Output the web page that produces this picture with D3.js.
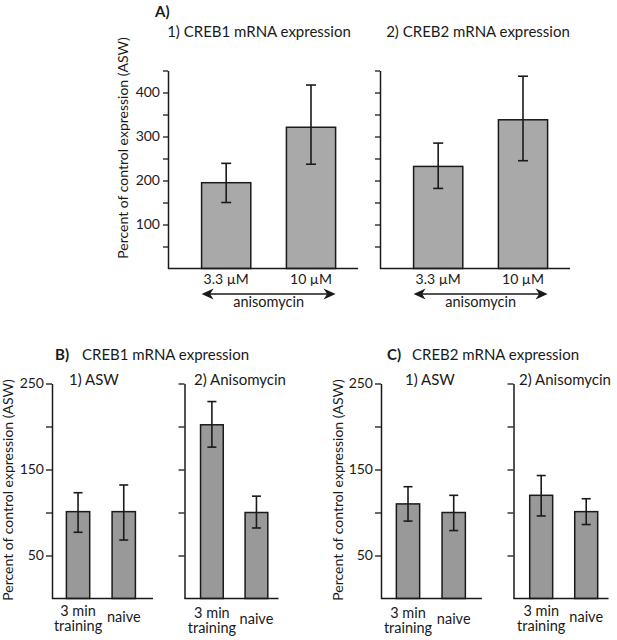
<!DOCTYPE html>
<html>
<head>
<meta charset="utf-8">
<script src="https://cdn.jsdelivr.net/npm/d3@7"></script>
<style>
  body { margin: 0; background: #fff; }
  text { font-family: Lato, "Open Sans", sans-serif; fill: #1a1a1a; }
</style>
</head>
<body>
<svg id="chart" width="617" height="640"></svg>
<script>
// ---- data ----
const doseLabels = ["3.3 µM", "10 µM"];
const aCreb1Mean = [195, 321];
const aCreb1Hi = [239, 417];
const aCreb1Lo = [150, 237];
const aCreb2Mean = [232, 338];
const aCreb2Hi = [285, 437];
const aCreb2Lo = [182, 245];

const groupLabels = [["3 min", "training"], ["naive"]];
const bAswMean = [101, 101];
const bAswHi = [123, 132];
const bAswLo = [77, 68];
const bAniMean = [202, 100];
const bAniHi = [229, 119];
const bAniLo = [176, 82];
const cAswMean = [110, 100];
const cAswHi = [130, 120];
const cAswLo = [90, 79];
const cAniMean = [120, 101];
const cAniHi = [143, 116];
const cAniLo = [96, 86];

const aTicks = [50, 100, 150, 200, 250, 300, 350, 400, 450];
const aTickLabels = [100, 200, 300, 400];
const bTicks = [50, 100, 150, 200, 250];
const bTickLabels = [50, 150, 250];

const yLabel = "Percent of control expression (ASW)";

const svg = d3.select("#chart");
const ink = "#1a1a1a";

// panel layouts
const panels = [
  { cats: doseLabels, mean: aCreb1Mean, hi: aCreb1Hi, lo: aCreb1Lo, x0: 168, x1: 358,
    yBase: 268.5, yTop: 70.5, domain: [0, 450], ticks: aTicks, labels: aTickLabels,
    fill: "#a9a9a9", pi: 0.42, po: 0.33, align: 0.6, cap: 10, tickSize: 5, tickPad: 3, big: true },
  { cats: doseLabels, mean: aCreb2Mean, hi: aCreb2Hi, lo: aCreb2Lo, x0: 380, x1: 570,
    yBase: 268.5, yTop: 70.5, domain: [0, 450], ticks: aTicks, labels: [],
    fill: "#a9a9a9", pi: 0.42, po: 0.33, align: 0.6, cap: 10, tickSize: 5, tickPad: 3, big: true },
  { cats: groupLabels, mean: bAswMean, hi: bAswHi, lo: bAswLo, x0: 52, x1: 153,
    yBase: 598.5, yTop: 383.5, domain: [0, 250], ticks: bTicks, labels: bTickLabels,
    fill: "#999999", pi: 0.49, po: 0.35, align: 0.45, cap: 9, tickSize: 6, tickPad: 2, big: false, dy: 0 },
  { cats: groupLabels, mean: bAniMean, hi: bAniHi, lo: bAniLo, x0: 184.5, x1: 278.5,
    yBase: 598.5, yTop: 383.5, domain: [0, 250], ticks: bTicks, labels: [],
    fill: "#999999", pi: 0.49, po: 0.3, align: 0.6, cap: 9, tickSize: 6, tickPad: 2, big: false, dy: 2 },
  { cats: groupLabels, mean: cAswMean, hi: cAswHi, lo: cAswLo, x0: 381, x1: 482,
    yBase: 598.5, yTop: 383.5, domain: [0, 250], ticks: bTicks, labels: bTickLabels,
    fill: "#999999", pi: 0.49, po: 0.35, align: 0.48, cap: 9, tickSize: 6, tickPad: 2, big: false, dy: 2 },
  { cats: groupLabels, mean: cAniMean, hi: cAniHi, lo: cAniLo, x0: 513.5, x1: 608.5,
    yBase: 598.5, yTop: 383.5, domain: [0, 250], ticks: bTicks, labels: [],
    fill: "#999999", pi: 0.49, po: 0.3, align: 0.6, cap: 9, tickSize: 6, tickPad: 2, big: false, dy: 0 }
];

function drawPanel(p) {
  const g = svg.append("g");
  const x = d3.scaleBand()
      .domain(p.cats.map((d, i) => i))
      .range([p.x0, p.x1])
      .paddingInner(p.pi)
      .paddingOuter(p.po)
      .align(p.align);
  const y = d3.scaleLinear().domain(p.domain).range([p.yBase, p.yTop]);

  // bars
  g.selectAll("rect.bar")
    .data(p.mean)
    .join("rect")
      .attr("class", "bar")
      .attr("x", (d, i) => x(i))
      .attr("y", d => y(d))
      .attr("width", x.bandwidth())
      .attr("height", d => y(0) - y(d))
      .attr("fill", p.fill)
      .attr("stroke", ink)
      .attr("stroke-width", 1.5);

  // error bars
  const err = g.selectAll("g.err")
    .data(p.mean.map((m, i) => ({ i, hi: p.hi[i], lo: p.lo[i] })))
    .join("g")
      .attr("class", "err")
      .attr("transform", d => `translate(${x(d.i) + x.bandwidth() / 2},0)`)
      .attr("stroke", ink)
      .attr("stroke-width", 1.6);
  err.append("line").attr("y1", d => y(d.hi)).attr("y2", d => y(d.lo));
  err.append("line").attr("x1", -p.cap / 2).attr("x2", p.cap / 2)
      .attr("y1", d => y(d.hi)).attr("y2", d => y(d.hi));
  err.append("line").attr("x1", -p.cap / 2).attr("x2", p.cap / 2)
      .attr("y1", d => y(d.lo)).attr("y2", d => y(d.lo));

  // y axis
  const axis = d3.axisLeft(y)
      .tickValues(p.ticks)
      .tickSize(p.tickSize)
      .tickSizeOuter(0)
      .tickPadding(p.tickPad)
      .tickFormat(d => p.labels.includes(d) ? d : "");
  const ax = g.append("g").attr("transform", `translate(${p.x0},0)`).call(axis);
  ax.select(".domain").attr("stroke", ink).attr("stroke-width", 1.5);
  ax.selectAll(".tick line").attr("stroke", ink).attr("stroke-width", 1.3);
  ax.selectAll(".tick text").attr("font-size", 14).attr("fill", ink)
    .style("font-family", "Lato, 'Open Sans', sans-serif");

  // x axis line
  g.append("line")
      .attr("x1", p.x0).attr("x2", p.x1)
      .attr("y1", p.yBase).attr("y2", p.yBase)
      .attr("stroke", ink).attr("stroke-width", 1.5);

  // category labels
  if (p.big) {
    g.selectAll("text.cat")
      .data(p.cats)
      .join("text")
        .attr("class", "cat")
        .attr("x", (d, i) => x(i) + x.bandwidth() / 2)
        .attr("y", p.yBase + 15)
        .attr("text-anchor", "middle")
        .attr("font-size", 14)
        .text(d => d);

    // double-headed arrow spanning the bars
    const ax0 = x(0), ax1 = x(1) + x.bandwidth();
    const ay = p.yBase + 25.5;
    g.append("line").attr("x1", ax0 + 8).attr("x2", ax1 - 8)
      .attr("y1", ay).attr("y2", ay).attr("stroke", ink).attr("stroke-width", 1.6);
    g.append("path")
      .attr("d", `M${ax0},${ay} l12,-5.5 l-3.5,5.5 l3.5,5.5 z`)
      .attr("fill", ink);
    g.append("path")
      .attr("d", `M${ax1},${ay} l-12,-5.5 l3.5,5.5 l-3.5,5.5 z`)
      .attr("fill", ink);
    g.append("text")
      .attr("x", (ax0 + ax1) / 2)
      .attr("y", p.yBase + 38.5)
      .attr("text-anchor", "middle")
      .attr("font-size", 14.5)
      .text("anisomycin");
  } else {
    g.selectAll("text.cat")
      .data(p.cats)
      .join("text")
        .attr("class", "cat")
        .attr("x", (d, i) => x(i) + x.bandwidth() / 2)
        .attr("y", d => p.yBase + p.dy + (d.length > 1 ? 17 : 23.5))
        .attr("text-anchor", "middle")
        .attr("font-size", 14.5)
        .selectAll("tspan")
        .data(d => d)
        .join("tspan")
          .attr("x", function () { return this.parentNode.getAttribute("x"); })
          .attr("dy", (d, j) => j === 0 ? 0 : 15.5)
          .text(d => d);
  }
  return g;
}

panels.forEach(drawPanel);

// titles and labels
function label(x, y, txt, opts = {}) {
  const t = svg.append("text")
      .attr("x", x).attr("y", y)
      .attr("font-size", opts.size || 15)
      .attr("text-anchor", opts.anchor || "start")
      .attr("font-weight", opts.bold ? "bold" : null)
      .text(txt);
  if (opts.rotate) t.attr("transform", `rotate(-90,${x},${y})`);
  return t;
}

label(155, 17, "A)", { bold: true, size: 15 });
label(259, 36.5, "1) CREB1 mRNA expression", { anchor: "middle" });
label(478, 36.5, "2) CREB2 mRNA expression", { anchor: "middle" });
label(128, 148, yLabel, { anchor: "middle", rotate: true, size: 14 });

label(55, 360, "B)", { bold: true, size: 15 });
label(82, 360, "CREB1 mRNA expression");
label(94, 385, "1) ASW", { anchor: "middle" });
label(240, 385, "2) Anisomycin", { anchor: "middle" });
label(13, 490, yLabel, { anchor: "middle", rotate: true, size: 14 });

label(387, 360, "C)", { bold: true, size: 15 });
label(412, 360, "CREB2 mRNA expression");
label(430, 385, "1) ASW", { anchor: "middle" });
label(565, 385, "2) Anisomycin", { anchor: "middle" });
label(343, 490, yLabel, { anchor: "middle", rotate: true, size: 14 });
</script>
</body>
</html>
